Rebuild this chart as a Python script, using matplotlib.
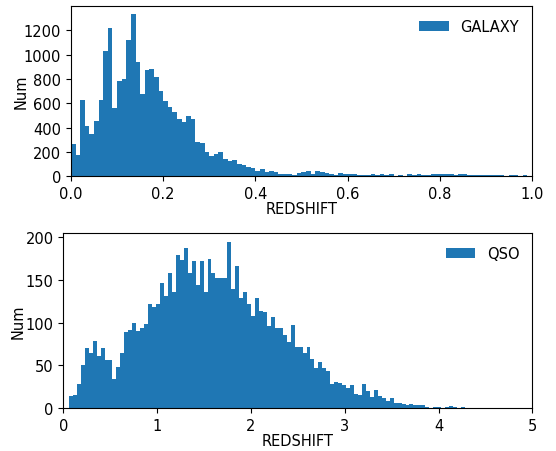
import matplotlib
matplotlib.use('Agg')
import matplotlib.pyplot as plt
from matplotlib.ticker import MultipleLocator
import numpy as np

# galaxy redshift histogram, 100 bins over 0..1
galaxy_range = (0.0, 1.0)
galaxy_counts = [263, 177, 628, 415, 346, 453, 628, 1028, 1216, 563,
                 782, 798, 1120, 1333, 942, 675, 872, 880, 815, 701,
                 618, 569, 528, 470, 444, 495, 470, 281, 273, 199,
                 167, 183, 199, 142, 130, 136, 102, 93, 76, 67,
                 45, 60, 38, 44, 33, 19, 19, 19, 14, 27,
                 38, 44, 19, 44, 36, 30, 22, 14, 27, 16,
                 16, 16, 11, 11, 11, 19, 11, 19, 14, 19,
                 5, 11, 5, 19, 14, 19, 11, 11, 19, 19,
                 19, 19, 19, 14, 19, 19, 11, 11, 11, 11,
                 11, 11, 11, 11, 3, 11, 11, 3, 11, 3]

# QSO redshift histogram, 100 bins over the data range
qso_range = (0.06, 4.28)
qso_counts = [14, 15, 28, 51, 70, 65, 78, 61, 70, 56,
              56, 34, 48, 65, 89, 92, 100, 90, 94, 99,
              122, 118, 122, 146, 131, 158, 136, 179, 174, 187,
              158, 172, 144, 172, 136, 175, 158, 152, 152, 152,
              195, 140, 166, 129, 136, 122, 108, 129, 114, 112,
              96, 107, 94, 94, 86, 77, 97, 72, 71, 65,
              71, 57, 47, 54, 47, 43, 28, 31, 29, 27,
              23, 27, 17, 15, 28, 20, 13, 21, 14, 12,
              8, 12, 6, 6, 5, 4, 5, 3, 4, 4,
              1, 0, 1, 1, 0, 1, 2, 1, 0, 1]

plt.rcParams['font.size'] = 10.5

fig = plt.figure(figsize=(5.56, 4.52), dpi=100)
ax1 = fig.add_axes([0.1277, 0.6077, 0.829, 0.3768])
ax2 = fig.add_axes([0.1138, 0.0951, 0.8439, 0.3865])

edges = np.linspace(galaxy_range[0], galaxy_range[1], len(galaxy_counts) + 1)
ax1.hist(edges[:-1], bins=edges, weights=galaxy_counts, label='GALAXY')
ax1.set_xlim(0, 1)
ax1.yaxis.set_major_locator(MultipleLocator(200))
ax1.set_xlabel('REDSHIFT', labelpad=0)
ax1.set_ylabel('Num')
ax1.yaxis.set_label_coords(-0.092, 0.5)
ax1.legend(loc='upper right', frameon=False)

edges = np.linspace(qso_range[0], qso_range[1], len(qso_counts) + 1)
ax2.hist(edges[:-1], bins=edges, weights=qso_counts, label='QSO')
ax2.set_xlim(0, 5)
ax2.set_xlabel('REDSHIFT', labelpad=0)
ax2.set_ylabel('Num')
ax2.yaxis.set_label_coords(-0.08, 0.5)
ax2.legend(loc='upper right', frameon=False)

fig.savefig('out.png', dpi=100)
